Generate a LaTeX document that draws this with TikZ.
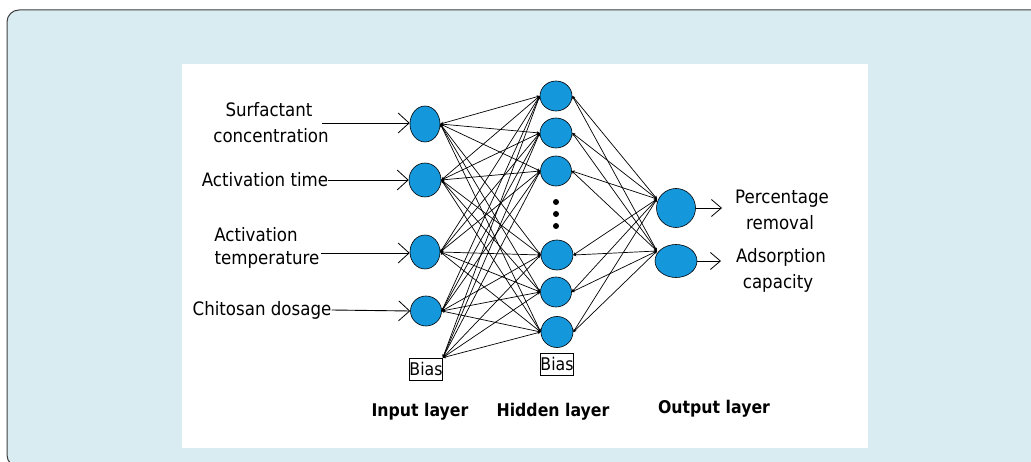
\documentclass[tikz,border=0pt]{standalone}
\usepackage{fontspec}
\setmainfont{DejaVu Sans}[FakeStretch=0.9]
\usetikzlibrary{shapes.geometric,arrows.meta}
\definecolor{panel}{HTML}{D8ECF2}
\definecolor{nodeblue}{HTML}{1597DC}
\tikzset{
  neuron/.style={ellipse, draw=black, line width=0.6pt, fill=nodeblue, inner sep=0pt},
  biasbox/.style={draw=black, line width=0.7pt, inner sep=0pt, minimum width=32pt, minimum height=22pt, font=\fontsize{17.5}{18}\selectfont},
  lbl/.style={inner sep=0pt, font=\fontsize{18.5}{20}\selectfont, text=black},
  layerlbl/.style={inner sep=0pt, font=\fontsize{17.5}{19}\selectfont\bfseries},
  inarrow/.style={line width=0.9pt, -{Straight Barb[length=11pt,width=20pt,line width=0.8pt]}},
  outarrow/.style={line width=0.9pt, -{Straight Barb[length=10pt,width=17pt,line width=0.8pt]}},
  conn/.style={line width=0.7pt, {Stealth[length=3pt,width=3pt]}-{Stealth[length=3pt,width=3pt]}},
  dot/.style={circle, fill=black, inner sep=0pt, minimum size=6pt}
}
\begin{document}
\begin{tikzpicture}[x=1pt,y=-1pt]
\useasboundingbox (0,0) rectangle (1031,462);
\begin{scope}
\clip (0,0) rectangle (1031,462);
\fill[white] (0,0) rectangle (1031,462);
\draw[fill=panel, draw=black!75, line width=1pt, rounded corners=12pt] (7,10) rectangle (1050,467);
\end{scope}
\fill[white] (182,64) rectangle (868,448);

% input neurons
\node[neuron, minimum width=30pt, minimum height=36pt] (i1) at (425,124) {};
\node[neuron, minimum width=32pt, minimum height=34pt] (i2) at (425,180) {};
\node[neuron, minimum width=30pt, minimum height=34pt] (i3) at (425,252) {};
\node[neuron, minimum width=31pt, minimum height=30pt] (i4) at (426,311) {};
\node[biasbox] (ib) at (426,369) {Bias};

% hidden neurons
\node[neuron, minimum width=32pt, minimum height=30pt] (h1) at (556,96) {};
\node[neuron, minimum width=32pt, minimum height=30pt] (h2) at (556,133) {};
\node[neuron, minimum width=31pt, minimum height=30pt] (h3) at (556,171) {};
\node[neuron, minimum width=32pt, minimum height=30pt] (h4) at (557,255) {};
\node[neuron, minimum width=31pt, minimum height=30pt] (h5) at (556,292) {};
\node[neuron, minimum width=32pt, minimum height=31pt] (h6) at (557,332) {};
\node[biasbox] (hb) at (557,364) {Bias};
\node[dot] (d1) at (556,202) {};
\node[dot] (d2) at (556,214) {};
\node[dot] (d3) at (556,226) {};

% output neurons
\node[neuron, minimum width=39pt, minimum height=39pt] (o1) at (676,208) {};
\node[neuron, minimum width=42pt, minimum height=33pt] (o2) at (676,261) {};

% connections input -> hidden
\foreach \i in {i1,i2,i3,i4}{
  \foreach \h in {h1,h2,h3,h4,h5,h6}{
    \draw[conn] (\i.east) -- (\h.west);
  }
}
\foreach \h in {h1,h2,h3,h4,h5,h6}{
  \draw[conn] (ib.north east) -- (\h.west);
}
% connections hidden -> output
\coordinate (o1in) at (657,199);
\coordinate (o2in) at (657,251);
\foreach \h in {h1,h2,h3,h4,h5,h6}{
  \draw[conn] (\h.east) -- (o1in);
  \draw[conn] (\h.east) -- (o2in);
}

% input labels
\node[lbl] (l1a) at (269,110) {Surfactant};
\node[lbl] (l1b) at (271,136) {concentration};
\node[lbl] (l2) at (265,180) {Activation time};
\node[lbl] (l3a) at (256,235) {Activation};
\node[lbl] (l3b) at (267,260) {temperature};
\node[lbl] (l4) at (262,310) {Chitosan dosage};

\coordinate (s1) at (322,123);
\coordinate (s3) at (321,253);
\draw[inarrow] (s1) -- (i1.west |- s1);
\draw[inarrow] (l2.east) -- (i2.west);
\draw[inarrow] (s3) -- (i3.west |- s3);
\draw[inarrow] (l4.east) -- (i4.west);

% outputs
\coordinate (e1) at (722,208);
\coordinate (e2) at (721,261);
\draw[outarrow] (o1.east) -- (e1);
\draw[outarrow] (o2.east) -- (e2);
\node[lbl] (p1) at (782,199) {Percentage};
\node[lbl] (p2) at (780,223) {removal};
\node[lbl] (p3) at (781,257) {Adsorption};
\node[lbl] (p4) at (778,283) {capacity};

% layer labels
\node[layerlbl] (L1) at (420,412) {Input layer};
\node[layerlbl] (L2) at (553,412) {Hidden layer};
\node[layerlbl] (L3) at (714,409) {Output layer};
\end{tikzpicture}
\end{document}
